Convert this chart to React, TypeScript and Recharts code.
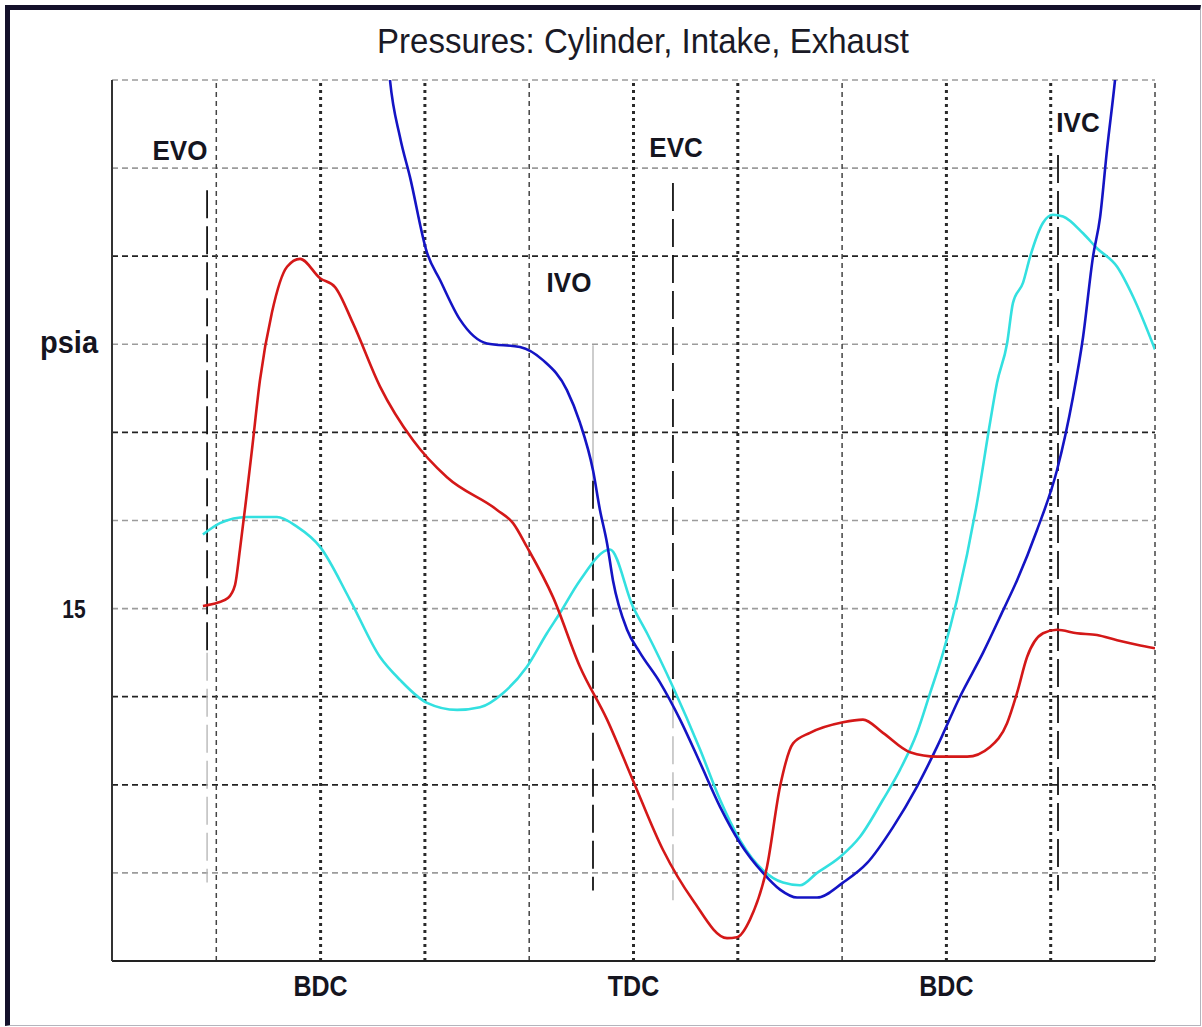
import React from "react";
import { LineChart, Line, XAxis, YAxis, ReferenceLine, ReferenceDot } from "recharts";

// ---------- data (crank angle in degrees, pressure in psia) ----------
const exhaustDeg = [112.3, 121.0, 126.7, 130.8, 133.6, 137.1, 140.5, 145.1, 152.0, 160.7, 168.2, 179.7, 188.3, 198.6, 214.2, 233.2, 252.7, 281.5, 290.7, 298.7, 313.7, 329.2, 344.8, 359.7, 377.0, 394.2, 413.8, 419.5, 427.0, 436.8, 444.3, 451.8, 461.5, 480.5, 492.0, 503.5, 519.1, 534.6, 551.9, 565.1, 574.9, 580.6, 586.4, 595.6, 603.6, 615.1, 626.6, 638.2, 649.6, 660];
const exhaustPsi = [15.03, 15.07, 15.12, 15.27, 15.67, 16.23, 16.8, 17.59, 18.36, 18.88, 18.97, 18.75, 18.65, 18.24, 17.52, 16.91, 16.49, 16.12, 15.97, 15.7, 15.13, 14.34, 13.74, 13.05, 12.26, 11.69, 11.26, 11.27, 11.47, 12.07, 12.98, 13.47, 13.59, 13.71, 13.74, 13.59, 13.37, 13.32, 13.32, 13.43, 13.7, 14.04, 14.45, 14.72, 14.76, 14.72, 14.7, 14.64, 14.59, 14.55];

const cylinderDeg = [218.8, 219.9, 225.7, 231.4, 241.2, 248.7, 260.2, 275.7, 294.7, 307.9, 321.7, 329.2, 336.7, 340.7, 344.8, 348.2, 356.3, 363.7, 375.3, 386.8, 398.3, 409.8, 421.3, 434.5, 444.3, 454.1, 465.6, 480.5, 494.3, 509.3, 523.1, 534.6, 547.8, 561.1, 572.6, 580.6, 592.1, 603.6, 612.8, 618.6, 624.3, 628.4, 632.4, 637.0, 638.7];
const cylinderPsi = [21.23, 21.0, 20.35, 19.9, 19.04, 18.73, 18.28, 18.01, 17.97, 17.82, 17.48, 17.11, 16.57, 16.12, 15.74, 15.32, 14.76, 14.5, 14.16, 13.74, 13.25, 12.75, 12.34, 12.0, 11.81, 11.72, 11.72, 11.89, 12.11, 12.52, 12.98, 13.43, 14.0, 14.5, 14.98, 15.32, 15.89, 16.57, 17.4, 18.08, 18.99, 19.44, 20.21, 21.0, 21.34];

const intakeDeg = [112.3, 122.1, 137.7, 154.9, 166.4, 179.7, 196.9, 214.2, 225.7, 241.2, 258.5, 271.7, 284.9, 298.7, 310.2, 317.7, 329.2, 346.5, 359.7, 367.8, 382.7, 398.3, 409.8, 421.3, 434.5, 446.0, 455.8, 465.6, 478.8, 490.3, 503.5, 513.3, 523.1, 530.6, 538.1, 546.1, 557.6, 565.1, 569.1, 574.9, 578.3, 584.1, 588.1, 595.6, 601.3, 607.1, 618.6, 626.6, 638.2, 647.4, 660];
const intakePsi = [15.84, 15.97, 16.04, 16.04, 15.93, 15.7, 15.1, 14.45, 14.19, 13.93, 13.85, 13.88, 14.04, 14.34, 14.72, 14.95, 15.32, 15.67, 15.02, 14.72, 14.11, 13.4, 12.83, 12.37, 12.03, 11.89, 11.86, 12.0, 12.18, 12.41, 12.83, 13.17, 13.59, 14.04, 14.5, 15.1, 16.2, 17.11, 17.56, 18.01, 18.47, 18.7, 18.99, 19.38, 19.47, 19.45, 19.26, 19.09, 18.88, 18.54, 17.94];

// axis ticks / labels
const xTickValues = [180, 360, 540];
const xTickLabels = ["BDC", "TDC", "BDC"];
const yTickValues = [15, 18];
const yTickLabels = ["15", "psia"];

// grid
const crankGrid = [120, 180, 240, 300, 360, 420, 480, 540, 600, 660];
const thickCrankGrid = [180, 240, 360, 420, 540, 600];
const psiGrid = [12, 13, 14, 15, 16, 17, 18, 19, 20, 21];
const darkPsiGrid = [13, 14, 17, 19];

// valve events
const eventNames = ["EVO", "IVO", "EVC", "IVC"];
const eventDeg = [114.7, 336.7, 382.7, 604.2];
const eventLabelDeg = [99.1, 322.9, 384.5, 615.7];
const eventLabelPsi = [20.09, 18.59, 20.13, 20.41];
// segments of the event marker lines: [eventIndex, fromPsi, toPsi, tone]
const eventSegments: [number, number, number, "dark" | "light"][] = [
  [0, 19.75, 14.5, "dark"],
  [0, 14.5, 11.89, "light"],
  [1, 17.99, 16.45, "light"],
  [1, 16.45, 11.8, "dark"],
  [2, 19.83, 13.96, "dark"],
  [2, 13.96, 11.69, "light"],
  [3, 20.15, 11.8, "dark"],
];

const zip = (xs: number[], ys: number[]) => xs.map((x, i) => ({ deg: x, psi: ys[i] }));
const exhaustData = zip(exhaustDeg, exhaustPsi);
const cylinderData = zip(cylinderDeg, cylinderPsi);
const intakeData = zip(intakeDeg, intakePsi);

const FONT = "'Liberation Sans', Arial, Helvetica, sans-serif";
const INK = "#15151f";

const XTick = (props: any) => {
  const { x, payload } = props;
  const i = xTickValues.indexOf(payload.value);
  if (i < 0) return null;
  return (
    <text transform={`translate(${x},996) scale(1,1.15)`} textAnchor="middle" fontSize={25} fontWeight="bold" fill={INK} fontFamily={FONT}>
      {xTickLabels[i]}
    </text>
  );
};

const YTick = (props: any) => {
  const { y, payload } = props;
  const i = yTickValues.indexOf(payload.value);
  if (i < 0) return null;
  const label = yTickLabels[i];
  if (label === "psia") {
    return (
      <text transform={`translate(98,${y + 9}) scale(1,1.05)`} textAnchor="end" fontSize={29} fontWeight="bold" fill={INK} fontFamily={FONT}>
        {label}
      </text>
    );
  }
  return (
    <text transform={`translate(74,${y + 9}) scale(1,1.2)`} textAnchor="middle" fontSize={21} fontWeight="bold" fill={INK} fontFamily={FONT}>
      {label}
    </text>
  );
};

export default function App() {
  return (
    <div style={{ position: "absolute", left: 0, top: 0, width: 1202, height: 1027, background: "#fff" }}>
      <div
        style={{
          position: "absolute",
          left: 5,
          top: 5,
          width: 1196,
          height: 1021,
          boxSizing: "border-box",
          borderLeft: "5px solid #14112b",
          borderTop: "5px solid #14112b",
          borderRight: "1px solid #b4b4bc",
          borderBottom: "1px solid #b4b4bc",
        }}
      />
      <svg width={1202} height={70} style={{ position: "absolute", left: 0, top: 0 }}>
        <text transform="translate(643,53) scale(1,1.06)" textAnchor="middle" fontSize={33} fill="#1a1a26" fontFamily={FONT}>
          Pressures: Cylinder, Intake, Exhaust
        </text>
      </svg>
      <div style={{ position: "absolute", left: 0, top: 0 }}>
        <LineChart width={1202} height={1027} margin={{ top: 80, right: 47, bottom: 0, left: 0 }}>
          <XAxis
            type="number"
            dataKey="deg"
            domain={[60, 660]}
            ticks={xTickValues}
            allowDataOverflow
            height={66}
            tickLine={false}
            axisLine={{ stroke: "#222", strokeWidth: 2 }}
            tick={<XTick />}
          />
          <YAxis
            type="number"
            dataKey="psi"
            domain={[11, 21]}
            ticks={yTickValues}
            allowDataOverflow
            width={112}
            tickLine={false}
            axisLine={{ stroke: "#333", strokeWidth: 2 }}
            tick={<YTick />}
          />
          {psiGrid.map((v) => (
            <ReferenceLine
              key={`h${v}`}
              y={v}
              stroke={darkPsiGrid.includes(v) ? "#222" : "#9c9c9c"}
              strokeWidth={darkPsiGrid.includes(v) ? 1.8 : 1.6}
              strokeDasharray="6 4"
            />
          ))}
          {crankGrid.map((v) => (
            <ReferenceLine
              key={`v${v}`}
              x={v}
              stroke={thickCrankGrid.includes(v) ? "#2a2a2a" : "#444"}
              strokeWidth={thickCrankGrid.includes(v) ? 3 : 1.5}
              strokeDasharray={thickCrankGrid.includes(v) ? "3 4" : "5 4"}
            />
          ))}
          {eventSegments.map(([ei, from, to, tone], k) => (
            <ReferenceLine
              key={`e${k}`}
              segment={[
                { x: eventDeg[ei], y: from },
                { x: eventDeg[ei], y: to },
              ]}
              stroke={tone === "dark" ? "#151515" : "#b8b8b8"}
              strokeWidth={tone === "dark" ? 1.8 : 1.4}
              strokeDasharray={ei === 1 && tone === "light" ? undefined : "28 8"}
            />
          ))}
          <Line data={intakeData} dataKey="psi" type="monotone" stroke="#33e0e0" strokeWidth={2.6} dot={false} isAnimationActive={false} />
          <Line data={cylinderData} dataKey="psi" type="monotone" stroke="#1414c4" strokeWidth={2.6} dot={false} isAnimationActive={false} />
          <Line data={exhaustData} dataKey="psi" type="monotone" stroke="#d41818" strokeWidth={2.6} dot={false} isAnimationActive={false} />
          {eventNames.map((name, i) => (
            <ReferenceDot
              key={name}
              x={eventLabelDeg[i]}
              y={eventLabelPsi[i]}
              r={0}
              shape={(p: any) => (
                <text transform={`translate(${p.cx},${p.cy}) scale(1,1.08)`} textAnchor="middle" fontSize={26} fontWeight="bold" fill={INK} fontFamily={FONT}>
                  {name}
                </text>
              )}
            />
          ))}
        </LineChart>
      </div>
    </div>
  );
}
